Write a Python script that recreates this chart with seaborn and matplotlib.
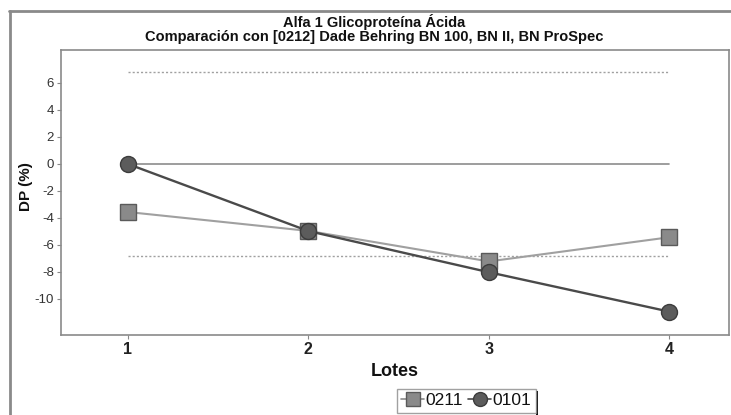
import matplotlib
matplotlib.use("Agg")
import matplotlib.pyplot as plt
from matplotlib.lines import Line2D
from matplotlib.patches import Rectangle
import seaborn as sns
import pandas as pd

lotes = [1, 2, 3, 4]
serie_0211 = [-3.56, -4.96, -7.22, -5.43]
serie_0101 = [0.0, -4.97, -8.02, -10.94]
limite_dp = 6.8
y_ticks = [-10, -8, -6, -4, -2, 0, 2, 4, 6]
titulo = ["Alfa 1 Glicoproteína Ácida",
          "Comparación con [0212] Dade Behring BN 100, BN II, BN ProSpec"]

sns.set_theme(style="white")
plt.rcParams["font.family"] = ["Liberation Sans", "DejaVu Sans"]

W, H = 731, 415
fig = plt.figure(figsize=(W / 100, H / 100), dpi=100)
ax = fig.add_axes([61 / W, 1 - 335 / H, (729 - 61) / W, (335 - 50) / H])

df = pd.DataFrame({"Lote": lotes * 2,
                   "DP": serie_0211 + serie_0101,
                   "Lote_id": ["0211"] * 4 + ["0101"] * 4})

# reference lines: zero and +/- limits
ax.plot([lotes[0], lotes[-1]], [0, 0], color="#8c8c8c", lw=1.2, zorder=1)
for lim in (limite_dp, -limite_dp):
    ax.plot([lotes[0], lotes[-1]], [lim, lim], color="#a0a0a0", lw=1.0,
            ls=(0, (1.5, 1.5)), zorder=1)

sns.lineplot(data=df[df.Lote_id == "0211"], x="Lote", y="DP", ax=ax,
             color="#a0a0a0", lw=1.5, marker="s", markersize=11.5,
             markerfacecolor="#8a8a8a", markeredgecolor="#5a5a5a",
             markeredgewidth=1.0, zorder=3, legend=False)
sns.lineplot(data=df[df.Lote_id == "0101"], x="Lote", y="DP", ax=ax,
             color="#4a4a4a", lw=1.7, marker="o", markersize=11.5,
             markerfacecolor="#5c5c5c", markeredgecolor="#3c3c3c",
             markeredgewidth=1.0, zorder=4, legend=False)

ax.set_xlim(0.63, 4.33)
ax.set_ylim(-12.67, 8.44)
ax.set_xticks(lotes)
ax.set_xticklabels([str(v) for v in lotes], fontsize=11.5, fontweight="bold", color="#222222")
ax.set_yticks(y_ticks)
ax.set_yticklabels([str(v) for v in y_ticks], fontsize=9.5, color="#333333")
ax.tick_params(axis="both", which="major", length=3, width=0.8, color="#888888",
               direction="out", left=True, bottom=True, pad=2)
for sp in ax.spines.values():
    sp.set_color("#8a8a8a")
    sp.set_linewidth(1.2)

ax.set_xlabel("Lotes", fontsize=13, fontweight="bold", color="#111111", labelpad=4)
ax.set_ylabel("DP (%)", fontsize=11, fontweight="bold", color="#111111")
ax.yaxis.set_label_coords(-0.042, 0.52)

cx = 374 / W
fig.text(cx, 1 - 27 / H, titulo[0], ha="center", va="baseline",
         fontsize=10.5, fontweight="bold", color="#111111")
fig.text(cx, 1 - 41 / H, titulo[1], ha="center", va="baseline",
         fontsize=10.5, fontweight="bold", color="#111111")

# outer frame edges
fig.add_artist(Line2D([10 / W, 10 / W], [0, 1 - 11 / H], color="#8a8a8a",
                      lw=2.0, transform=fig.transFigure))
fig.add_artist(Line2D([9 / W, 1], [1 - 11 / H, 1 - 11 / H], color="#8a8a8a",
                      lw=2.0, transform=fig.transFigure))

handles = [Line2D([], [], color="#8a8a8a", lw=1.2, marker="s", markersize=10,
                  markerfacecolor="#8a8a8a", markeredgecolor="#5a5a5a"),
           Line2D([], [], color="#4a4a4a", lw=1.2, marker="o", markersize=10,
                  markerfacecolor="#5c5c5c", markeredgecolor="#3c3c3c")]
leg = fig.legend(handles, ["0211", "0101"], ncol=2, loc="upper left",
                 bbox_to_anchor=(397 / W, 1 - 389 / H), frameon=True,
                 fancybox=False, fontsize=12.5, handlelength=1.3,
                 handletextpad=0.1, columnspacing=0.3, borderpad=0.25,
                 borderaxespad=0)
leg.get_frame().set_edgecolor("#8a8a8a")
leg.get_frame().set_linewidth(1.0)
for t in leg.get_texts():
    t.set_color("#111111")

fig.canvas.draw()
bb = leg.get_window_extent()
fig.add_artist(Rectangle((bb.x1 / W, 0), 2.5 / W, bb.y1 / H - 2 / H,
                         transform=fig.transFigure, color="#111111", lw=0))

fig.savefig("out.png", dpi=100)
